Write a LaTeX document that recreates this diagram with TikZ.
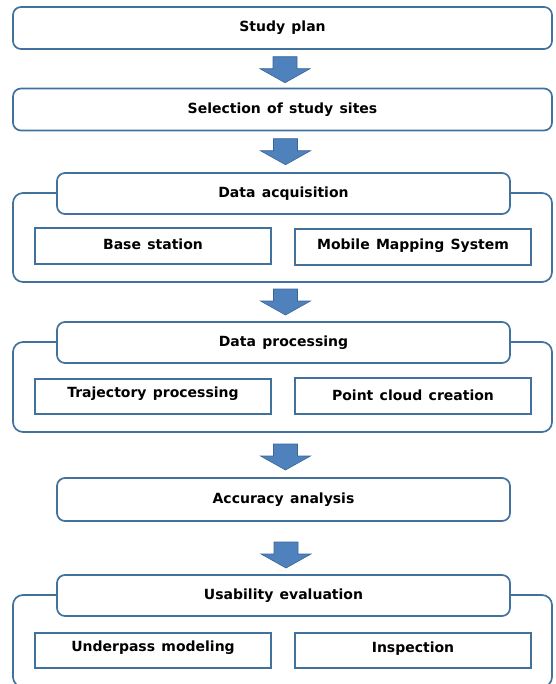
\documentclass[tikz,border=0pt]{standalone}
\usepackage{fontspec}
\setmainfont{DejaVu Sans}[BoldFont={DejaVu Sans Bold}]
\usetikzlibrary{calc}
\definecolor{edge}{HTML}{41719C}
\definecolor{arrfill}{HTML}{4F81BD}
\definecolor{arredge}{HTML}{3A6694}
\newcommand{\lblfont}{\bfseries\fontsize{14}{16}\selectfont\spaceskip=0.45em plus 0.1em}
\tikzset{
  bigbox/.style={draw=edge, line width=1.7pt, rounded corners=8pt, fill=white, inner sep=0pt, minimum height=42pt, font=\lblfont},
  outerbox/.style={draw=edge, line width=1.7pt, rounded corners=10pt, inner sep=0pt},
  subbox/.style={draw=edge, line width=2pt, fill=white, inner sep=0pt, minimum width=236pt, minimum height=35pt},
  sublbl/.style={font=\lblfont, inner sep=0pt},
  blockarrow/.style={fill=arrfill, draw=arredge, line width=0.6pt}
}
\newcommand{\blkarrow}[1]{%
  \draw[blockarrow] ($#1+(-12,-13)$) -- ++(24,0) -- ++(0,12) -- ++(13,0)
    -- ($#1+(0,13)$) -- ($#1+(-25,-1)$) -- ++(13,0) -- cycle;}
\begin{document}
\begin{tikzpicture}[x=1pt,y=-1pt]
\useasboundingbox (0,0) rectangle (555,684);
\begin{scope}
\clip (0,0) rectangle (555,684);
% top boxes
\node[bigbox, minimum width=539pt] (plan) at (282.5,28) {Study plan};
\node[bigbox, minimum width=539pt] (sites) at (282.5,109.5) {Selection of study sites};
% data acquisition
\node[outerbox, minimum width=539pt, minimum height=89pt] (daout) at (282.5,237.5) {};
\node[bigbox, minimum width=453pt, minimum height=41pt] (da) at (283.5,193.5) {Data acquisition};
\node[subbox] (base) at (153,246) {};
\node[sublbl] at ($(base.center)+(0,-1.5)$) {Base station};
\node[subbox, minimum height=36pt] (mms) at (413,247) {};
\node[sublbl] at ($(mms.center)+(0,-1.5)$) {Mobile Mapping System};
% data processing
\node[outerbox, minimum width=539pt, minimum height=90pt] (dpout) at (282.5,387) {};
\node[bigbox, minimum width=453pt, minimum height=41pt] (dp) at (283.5,342.5) {Data processing};
\node[subbox] (traj) at (153,396) {};
\node[sublbl] at ($(traj.center)+(0,-2)$) {Trajectory processing};
\node[subbox, minimum height=36pt] (pcc) at (413,396) {};
\node[sublbl] at ($(pcc.center)+(0,-1)$) {Point cloud creation};
% accuracy
\node[bigbox, minimum width=453pt, minimum height=43pt] (acc) at (283.5,499.5) {Accuracy analysis};
% usability
\node[outerbox, minimum width=539pt, minimum height=92pt] (ueout) at (282.5,641) {};
\node[bigbox, minimum width=453pt, minimum height=41pt] (ue) at (283.5,595.5) {Usability evaluation};
\node[subbox] (under) at (153,650) {};
\node[sublbl] at ($(under.center)+(0,-2)$) {Underpass modeling};
\node[subbox] (insp) at (413,650) {};
\node[sublbl] at ($(insp.center)+(0,-1)$) {Inspection};
\end{scope}
% arrows
\coordinate (m1) at ($(plan.south)!0.5!(sites.north)+(2.5,1)$);
\coordinate (m2) at ($(sites.south)!0.5!(da.north)+(2.5,0)$);
\coordinate (m3) at ($(daout.south)!0.5!(dp.north)+(2.5,0)$);
\coordinate (m4) at ($(dpout.south)!0.5!(acc.north)+(2.5,2)$);
\coordinate (m5) at ($(acc.south)!0.5!(ue.north)+(2.5,7)$);
\blkarrow{(m1)}
\blkarrow{(m2)}
\blkarrow{(m3)}
\blkarrow{(m4)}
\blkarrow{(m5)}
\end{tikzpicture}
\end{document}
